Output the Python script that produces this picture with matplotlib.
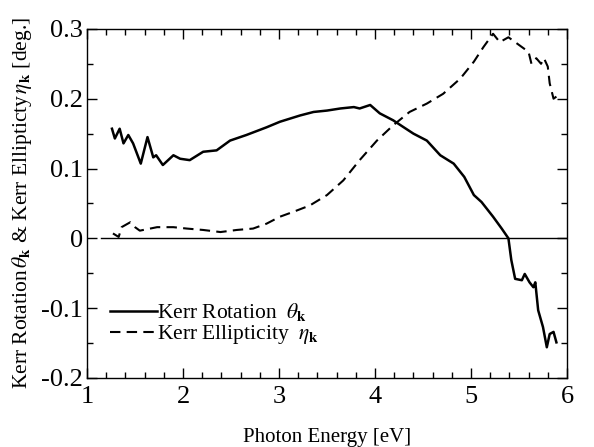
import matplotlib.pyplot as plt
from matplotlib.ticker import MultipleLocator

plt.rcParams['font.family'] = 'Liberation Serif'
plt.rcParams['mathtext.fontset'] = 'stix'

# Kerr rotation (solid)
rot_e = [1.26, 1.29, 1.34, 1.38, 1.43, 1.48, 1.56, 1.63, 1.69, 1.72, 1.79, 1.90,
         1.97, 2.07, 2.21, 2.35, 2.49, 2.66, 2.87, 3.01, 3.22, 3.36, 3.50, 3.64,
         3.78, 3.84, 3.95, 4.05, 4.19, 4.30, 4.40, 4.54, 4.68, 4.82, 4.93, 5.03,
         5.11, 5.23, 5.32, 5.39, 5.42, 5.46, 5.53, 5.56, 5.61, 5.65, 5.67, 5.70,
         5.75, 5.79, 5.82, 5.86, 5.89]
rot_v = [0.157, 0.143, 0.157, 0.136, 0.148, 0.136, 0.107, 0.145, 0.116, 0.119, 0.105, 0.119,
         0.114, 0.112, 0.124, 0.126, 0.140, 0.148, 0.159, 0.167, 0.176, 0.181, 0.183, 0.186,
         0.188, 0.186, 0.191, 0.179, 0.169, 0.159, 0.150, 0.140, 0.119, 0.107, 0.088, 0.062,
         0.052, 0.031, 0.014, 0.0, -0.031, -0.058, -0.060, -0.051, -0.063, -0.070, -0.063, -0.103,
         -0.127, -0.156, -0.137, -0.134, -0.149]

# Kerr ellipticity (dashed)
ell_e = [1.27, 1.33, 1.36, 1.45, 1.50, 1.55, 1.73, 1.90, 2.04, 2.21, 2.39, 2.56,
         2.73, 2.87, 3.01, 3.15, 3.32, 3.50, 3.67, 3.84, 4.02, 4.19, 4.36, 4.54,
         4.71, 4.89, 5.03, 5.13, 5.23, 5.30, 5.39, 5.51, 5.60, 5.63, 5.68, 5.73,
         5.76, 5.80, 5.82, 5.86, 5.89]
ell_v = [0.007, 0.002, 0.016, 0.023, 0.016, 0.011, 0.016, 0.016, 0.014, 0.012, 0.009, 0.012,
         0.014, 0.021, 0.031, 0.038, 0.047, 0.062, 0.083, 0.112, 0.140, 0.162, 0.181, 0.193,
         0.207, 0.229, 0.253, 0.274, 0.293, 0.281, 0.288, 0.276, 0.267, 0.250, 0.258, 0.250,
         0.258, 0.246, 0.222, 0.200, 0.203]

fig = plt.figure(figsize=(5.94, 4.47), dpi=100)
ax = fig.add_axes([0.1465, 0.1544, 0.808, 0.781])

ax.axhline(0, xmin=0.03, xmax=1, color='black', lw=1.0)
ax.plot(rot_e, rot_v, color='black', lw=1.8, label=r'Kerr Rotation  $\theta_\mathbf{k}$')
ax.plot(ell_e, ell_v, color='black', lw=1.5, dashes=(5, 3),
        label=r'Kerr Ellipticity  $\eta_\mathbf{k}$')

ax.set_xlim(1, 6)
ax.set_ylim(-0.2, 0.3)
ax.xaxis.set_major_locator(MultipleLocator(1))
ax.xaxis.set_minor_locator(MultipleLocator(0.2))
ax.yaxis.set_major_locator(MultipleLocator(0.1))
ax.yaxis.set_minor_locator(MultipleLocator(0.05))
ax.set_yticks([-0.2, -0.1, 0, 0.1, 0.2, 0.3])
ax.set_yticklabels(['-0.2', '-0.1', '0', '0.1', '0.2', '0.3'])
ax.tick_params(which='both', direction='in', top=True, right=True, labelsize=19, width=1)
ax.tick_params(which='major', length=7)
ax.tick_params(axis='x', which='major', pad=6)
ax.tick_params(axis='y', which='major', pad=3)
ax.tick_params(which='minor', length=4)
for s in ax.spines.values():
    s.set_linewidth(1.0)

ax.set_xlabel('Photon Energy [eV]', fontsize=15, labelpad=14)
ax.set_ylabel(r'Kerr Rotation$\,\theta_\mathbf{k}$ & Kerr Ellipticty$\,\eta_\mathbf{k}$ [deg.]',
              fontsize=15.5, labelpad=5)

ax.legend(loc='upper left', bbox_to_anchor=(0.03, 0.245), frameon=False, fontsize=15.5,
          handlelength=2.2, handletextpad=0.0, borderaxespad=0, labelspacing=0.0)

fig.savefig('out.png', dpi=100)
